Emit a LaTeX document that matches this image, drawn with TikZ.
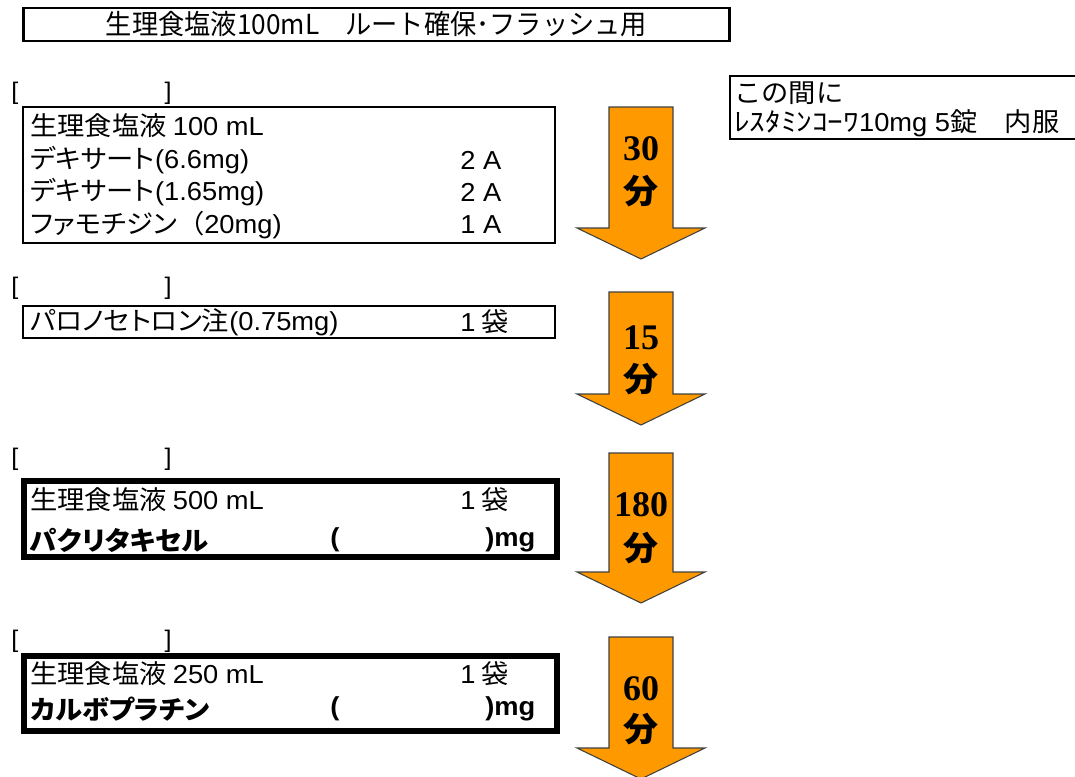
\documentclass[tikz,border=0pt]{standalone}
\usepackage{fontspec}
\newfontfamily\jp{Noto Sans CJK JP}[FakeStretch=1.05, RawFeature=+palt]
\newfontfamily\jn{Noto Sans CJK JP}[FakeStretch=1.05]
\newfontfamily\jt{Noto Sans CJK JP}[FakeStretch=0.95]
\newfontfamily\hk{Noto Sans CJK JP}[FakeStretch=1.2]
\newfontfamily\la{Liberation Sans}[FakeStretch=1.05]
\newfontfamily\tm{Liberation Serif}
\newcommand{\ml}[1]{{\la #1}}
\usetikzlibrary{positioning}
\definecolor{arroworange}{HTML}{FF9900}

\begin{document}
\begin{tikzpicture}[x=0.75pt,y=-0.75pt,
	every node/.style={inner sep=0pt},
	boxline/.style={draw, line width=2.2pt},
	heavybox/.style={draw, line width=3.8pt},
	rowtext/.style={anchor=west, font=\jp\fontsize{19.5}{21}\selectfont},
	rowbold/.style={anchor=west, font=\jp\bfseries\fontsize{19.5}{21}\selectfont},
	notetext/.style={anchor=west, font=\jn\fontsize{19.5}{21}\selectfont},
	bracket/.style={font=\la\fontsize{18}{20}\selectfont},
	timearrow/.style={fill=arroworange, draw=black!75, line width=0.8pt},
	mins/.style={font=\tm\bfseries\fontsize{27}{27}\selectfont},
	fun/.style={font=\jp\bfseries\fontsize{25}{25}\selectfont}]
	\useasboundingbox (0,0) rectangle (1075,776);
	% title
	\node[boxline, minimum width=530pt, minimum height=24.75pt, font=\jt\fontsize{20.7}{22}\selectfont] (title) at (376.5,24.5) {生理食塩液100mL　ルート確保･フラッシュ用};
	% brackets
	\foreach \y/\n in {93/1, 288/2, 459/3, 641/4} {
		\node[bracket] (lb\n) at (15,\y) {[};
		\node[bracket] (rb\n) at (168,\y) {]};
	}
	% time arrows
	\foreach \ya/\yb in {107/228, 292/394, 453/572, 637/748}
		\draw[timearrow] (609,\ya) -- (673,\ya) -- (673,\yb) -- (705,\yb) -- (641,\yb+31) -- (577,\yb) -- (609,\yb) -- cycle;
	\node[mins] (n1) at (641,149) {30};
	\node[fun] (f1) at (641,191) {分};
	\node[mins] (n2) at (641,338) {15};
	\node[fun] (f2) at (641,379) {分};
	\node[mins] (n3) at (641,505) {180};
	\node[fun] (f3) at (641,548) {分};
	\node[mins] (n4) at (641,689) {60};
	\node[fun] (f4) at (641,729) {分};
	% premedication
	\draw[boxline] (23,107) rectangle (555,243);
	\node[rowtext] (s1) at (30,126) {生理食塩液 \ml{100 mL}};
	\node[rowtext] (d1) at (30,160) {デキサート\ml{(6.6mg)}};
	\node[rowtext] (d2) at (30,192) {デキサート\ml{(1.65mg)}};
	\node[rowtext] (fa) at (30,225) {ファモチジン{\jn （}\ml{20mg)}};
	\node[rowtext] (qd1) at (460,160) {\ml{2 A}};
	\node[rowtext] (qd2) at (460,192) {\ml{2 A}};
	\node[rowtext] (qfa) at (460,225) {\ml{1 A}};
	% antiemetic
	\draw[boxline] (23,306) rectangle (555,338);
	\node[rowtext] (pa) at (30,322) {パロノセトロン注\ml{(0.75mg)}};
	\node[rowtext] (qpa) at (460,322) {\ml{1} 袋};
	% paclitaxel
	\draw[heavybox] (24,481) rectangle (557,557);
	\node[rowtext] (s2) at (30,500) {生理食塩液 \ml{500 mL}};
	\node[rowtext] (qs2) at (460,500) {\ml{1} 袋};
	\node[rowbold] (ptx) at (30,540) {パクリタキセル};
	\node[rowbold] (ptxo) at (330,540) {\ml{(}};
	\node[rowbold] (ptxc) at (485,540) {\ml{\bfseries )mg}};
	% carboplatin
	\draw[heavybox] (24,656) rectangle (557,731);
	\node[rowtext] (s3) at (30,674) {生理食塩液 \ml{250 mL}};
	\node[rowtext] (qs3) at (460,674) {\ml{1} 袋};
	\node[rowbold] (cbd) at (30,709) {カルボプラチン};
	\node[rowbold] (cbdo) at (330,709) {\ml{(}};
	\node[rowbold] (cbdc) at (485,709) {\ml{\bfseries )mg}};
	% oral antihistamine
	\draw[boxline] (730,76) rectangle (1090,139);
	\node[notetext] (note1) at (734,93) {この間に};
	\node[notetext] (note2) at (734,123) {{\hk ﾚｽﾀﾐﾝｺｰﾜ}\ml{10mg 5}錠　内服};
\end{tikzpicture}
\end{document}
